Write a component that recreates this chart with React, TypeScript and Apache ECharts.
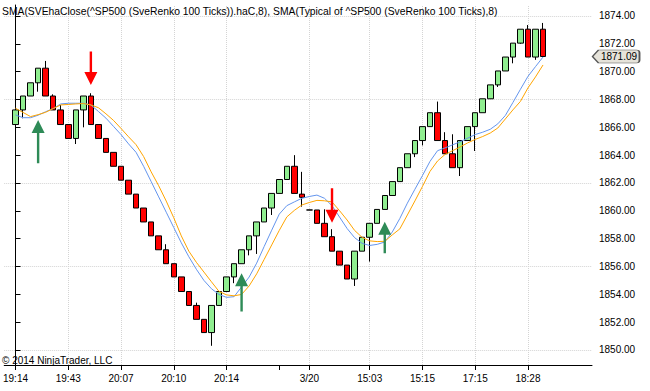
import React, { useEffect, useRef } from 'react';
import * as echarts from 'echarts';

// ---- Data ----
const opens = [
  1866.2, 1867.25, 1868.25, 1869.2, 1870.25, 1868.25, 1867.25, 1866.2, 1865.2, 1867.25,
  1868.25, 1866.2, 1865.2, 1864.2, 1863.2, 1862.2, 1861.2, 1860.2, 1859.2, 1858.2,
  1857.2, 1856.2, 1855.25, 1854.2, 1853.2, 1852.2, 1851.25, 1853.2, 1854.2, 1855.25,
  1856.2, 1857.2, 1858.2, 1859.2, 1860.2, 1861.25, 1862.25, 1863.2, 1861.2, 1860.06,
  1860.06, 1859.1, 1858.14, 1857.1, 1856.1, 1855.1, 1857.1, 1858.1, 1859.1, 1860.1,
  1861.1, 1862.1, 1863.1, 1864.1, 1865.05, 1866.05, 1867.05, 1865.05, 1864.1, 1863.1,
  1865.05, 1866.05, 1867.05, 1868.05, 1869.05, 1870.05, 1871.05, 1872.05, 1873.05, 1871.05,
  1873.05,
];
const closes = [
  1867.25, 1868.25, 1869.2, 1870.25, 1868.25, 1867.25, 1866.2, 1865.2, 1867.25, 1868.25,
  1866.2, 1865.2, 1864.2, 1863.2, 1862.2, 1861.2, 1860.2, 1859.2, 1858.2, 1857.2,
  1856.2, 1855.25, 1854.2, 1853.2, 1852.2, 1851.25, 1853.2, 1854.2, 1855.25, 1856.2,
  1857.2, 1858.2, 1859.2, 1860.2, 1861.25, 1862.25, 1863.2, 1861.25, 1860.97, 1860.06,
  1859.1, 1858.14, 1857.1, 1856.1, 1855.1, 1857.1, 1858.1, 1859.1, 1860.1, 1861.1,
  1862.1, 1863.1, 1864.1, 1865.05, 1866.05, 1867.05, 1865.05, 1864.1, 1863.1, 1865.05,
  1866.05, 1867.05, 1868.05, 1869.05, 1870.05, 1871.05, 1872.05, 1873.05, 1871.05, 1873.05,
  1871.09,
];
const lows = [
  1865.8, 1866.65, 1868.25, 1868.56, 1868.25, 1867.25, 1866.2, 1865.2, 1864.8, 1866.0,
  1866.2, 1865.2, 1864.2, 1863.2, 1862.2, 1861.2, 1860.2, 1859.2, 1858.2, 1857.2,
  1856.2, 1855.25, 1854.2, 1853.2, 1852.2, 1851.25, 1850.3, 1853.2, 1854.2, 1854.8,
  1856.2, 1856.8, 1856.9, 1859.2, 1859.7, 1861.25, 1862.25, 1861.25, 1860.3, 1860.06,
  1859.1, 1858.14, 1857.1, 1856.1, 1855.1, 1854.6, 1857.1, 1856.35, 1859.1, 1860.1,
  1861.1, 1862.1, 1863.1, 1863.86, 1864.7, 1866.05, 1865.05, 1864.1, 1863.1, 1862.5,
  1865.05, 1864.3, 1867.05, 1868.05, 1868.9, 1870.05, 1870.6, 1872.0, 1871.05, 1870.85,
  1871.09,
];
const highs = [
  1867.25, 1868.25, 1869.2, 1870.25, 1870.77, 1868.37, 1867.6, 1866.2, 1867.25, 1868.25,
  1868.45, 1866.2, 1865.2, 1864.2, 1863.2, 1862.2, 1861.2, 1860.2, 1859.2, 1858.2,
  1857.6, 1856.2, 1855.25, 1854.2, 1853.4, 1852.2, 1853.2, 1854.2, 1855.25, 1856.2,
  1857.2, 1858.2, 1859.2, 1860.2, 1861.25, 1862.25, 1863.2, 1864.0, 1862.8, 1860.06,
  1860.06, 1860.11, 1858.68, 1857.1, 1856.1, 1857.1, 1858.1, 1859.1, 1860.1, 1861.1,
  1862.1, 1863.1, 1864.1, 1865.05, 1866.05, 1867.05, 1867.85, 1865.65, 1865.5, 1865.05,
  1866.05, 1867.05, 1868.05, 1869.05, 1870.05, 1871.05, 1872.05, 1873.05, 1873.35, 1873.05,
  1873.5,
];
const smaHaClose = [
  1866.89, 1866.69, 1866.69, 1866.87, 1867.12, 1867.35, 1867.68, 1867.73, 1867.73, 1867.73,
  1867.61, 1867.14, 1866.66, 1866.07, 1865.48, 1864.81, 1864.2, 1863.2, 1862.1, 1861.0,
  1859.9, 1858.8, 1857.7, 1856.7, 1855.8, 1855.0, 1854.4, 1853.99, 1853.78, 1853.83,
  1854.53, 1855.24, 1856.24, 1857.44, 1858.61, 1859.76, 1860.37, 1860.64, 1860.9, 1861.03,
  1861.13, 1860.9, 1860.37, 1859.55, 1858.73, 1858.07, 1857.66, 1857.51, 1857.59, 1857.76,
  1858.48, 1859.45, 1860.55, 1861.55, 1862.53, 1863.55, 1864.32, 1864.52, 1864.74, 1864.96,
  1865.22, 1865.48, 1865.65, 1865.86, 1866.25, 1866.85, 1867.78, 1868.73, 1869.66, 1870.36,
  1871.05,
];
const smaTypical = [
  1867.37, 1867.07, 1866.77, 1866.91, 1867.08, 1867.35, 1867.61, 1867.64, 1867.68, 1867.71,
  1867.61, 1867.41, 1866.97, 1866.5, 1865.92, 1865.32, 1864.75, 1863.9, 1862.8, 1861.8,
  1860.7, 1859.5, 1858.2, 1857.1, 1856.3, 1855.6, 1854.9, 1854.21, 1853.96, 1853.89,
  1853.99, 1854.6, 1855.47, 1856.51, 1857.55, 1858.59, 1859.56, 1860.03, 1860.42, 1860.6,
  1860.75, 1860.72, 1860.64, 1860.01, 1859.34, 1858.59, 1858.09, 1857.84, 1857.79, 1857.81,
  1858.27, 1858.7, 1859.7, 1860.71, 1861.75, 1862.83, 1863.58, 1864.05, 1864.32, 1864.59,
  1864.88, 1865.13, 1865.34, 1865.59, 1865.95, 1866.6, 1867.25, 1867.86, 1868.83, 1869.62,
  1870.48,
];
// arrows: [bar index, tip price, tail price]
const upArrows = [
  [3, 1866.53, 1863.42],
  [30, 1855.52, 1852.76],
  [49, 1859.22, 1856.95],
];
const downArrows = [
  [10, 1869.04, 1871.44],
  [42, 1859.15, 1861.62],
];
const xTickBars = [0, 7, 14, 21, 28, 35, 39, 47, 54, 61, 68];
const xTickLabels = ['19:14', '19:43', '20:07', '20:10', '20:14', '', '3/20', '15:03', '15:15', '17:15', '18:28'];
const xGridBars = [0, 7, 14, 21, 28, 39, 47, 54, 61, 68];
const yTickValues = [1850, 1852, 1854, 1856, 1858, 1860, 1862, 1864, 1866, 1868, 1870, 1872, 1874];
const yGridValues = [1850, 1856, 1862, 1868, 1874];
const titleText = 'SMA(SVEhaClose(^SP500 (SveRenko 100 Ticks)).haC,8), SMA(Typical of ^SP500 (SveRenko 100 Ticks),8)';
const copyrightText = '\u00a9 2014 NinjaTrader, LLC';

const X_MIN = -1.5;
const X_MAX = 76.5;
const Y_MIN = 1848.92;
const Y_MAX = 1874.79;
const FONT = '"Liberation Sans", Arial, sans-serif';

export default function App() {
  const ref = useRef<HTMLDivElement>(null);
  useEffect(() => {
    if (!ref.current) return;
    const chart = echarts.init(ref.current, null, { renderer: 'svg' });
    const candles = opens.map((o, i) => [i, o, closes[i], lows[i], highs[i]]);
    const lastIdx = closes.length - 1;
    const lastClose = closes[lastIdx];

    const arrowRender = (params: any, api: any) => {
      const tip = api.coord([api.value(0), api.value(1)]);
      const tail = api.coord([api.value(0), api.value(2)]);
      const dir = tail[1] > tip[1] ? 1 : -1;
      const x = tip[0];
      const hb = tip[1] + dir * 13;
      return {
        type: 'polygon',
        shape: {
          points: [
            [x, tip[1]],
            [x + 6.5, hb],
            [x + 1.2, hb],
            [x + 1.2, tail[1]],
            [x - 1.2, tail[1]],
            [x - 1.2, hb],
            [x - 6.5, hb],
          ],
        },
        style: { fill: api.visual('color') },
      };
    };

    const gridLineStyle = { color: '#d4d4d4', type: 'dotted', width: 1 };

    chart.setOption({
      animation: false,
      backgroundColor: '#ffffff',
      textStyle: { fontFamily: FONT },
      title: [
        {
          text: titleText,
          left: 2,
          top: 6,
          padding: 0,
          textStyle: { fontSize: 10.35, fontWeight: 'normal', color: '#000', fontFamily: FONT },
        },
        {
          text: copyrightText,
          left: 2,
          top: 355,
          padding: 0,
          textStyle: { fontSize: 10, fontWeight: 'normal', color: '#000', fontFamily: FONT },
        },
      ],
      grid: { left: 0, right: 58, top: 5, bottom: 26, containLabel: false },
      xAxis: {
        type: 'value',
        min: X_MIN,
        max: X_MAX,
        axisLine: { show: true, lineStyle: { color: '#000', width: 1 } },
        axisTick: { show: true, length: 5, lineStyle: { color: '#000' }, customValues: xTickBars },
        axisLabel: {
          show: true,
          customValues: xTickBars,
          formatter: (v: number) => {
            const k = xTickBars.indexOf(Math.round(v));
            return k >= 0 ? xTickLabels[k] : '';
          },
          margin: 8,
          fontSize: 10,
          color: '#000',
          fontFamily: FONT,
          showMinLabel: true,
          showMaxLabel: true,
          hideOverlap: false,
        },
        splitLine: { show: false },
      },
      yAxis: {
        type: 'value',
        position: 'right',
        min: Y_MIN,
        max: Y_MAX,
        axisLine: { show: true, lineStyle: { color: '#000', width: 1 } },
        axisTick: { show: true, length: 5, lineStyle: { color: '#000' }, customValues: yTickValues },
        axisLabel: {
          show: true,
          customValues: yTickValues,
          formatter: (v: number) => v.toFixed(2),
          margin: 7,
          fontSize: 10,
          color: '#000',
          fontFamily: FONT,
        },
        splitLine: { show: false },
      },
      series: [
        {
          type: 'candlestick',
          data: candles,
          encode: { x: 0, y: [1, 2, 3, 4] },
          barWidth: 6,
          itemStyle: {
            color: '#90EE90',
            color0: '#FF0000',
            borderColor: '#000000',
            borderColor0: '#000000',
            borderWidth: 1,
          },
          markLine: {
            silent: true,
            symbol: ['none', 'none'],
            label: { show: false },
            lineStyle: gridLineStyle,
            data: [
              ...yGridValues.map((v) => ({ yAxis: v })),
              ...xGridBars.map((b) => ({ xAxis: b })),
            ],
            z: 0,
          },
          markPoint: {
            silent: true,
            symbol: 'path://M0,6.5 L6,0 L44,0 Q47,0 47,3 L47,10 Q47,13 44,13 L6,13 Z',
            symbolSize: [47, 13],
            symbolKeepAspect: false,
            symbolOffset: [24, 0],
            itemStyle: { color: '#E6E3DA', borderColor: '#555', borderWidth: 1 },
            label: {
              show: true,
              position: 'inside',
              offset: [3, 0],
              color: '#000',
              fontSize: 10,
              fontFamily: FONT,
              formatter: () => lastClose.toFixed(2),
            },
            data: [{ coord: [X_MAX, lastClose], value: lastClose }],
          },
          z: 2,
        },
        {
          type: 'line',
          name: 'SMA haClose',
          data: smaHaClose.map((v, i) => [i, v]),
          showSymbol: false,
          symbol: 'none',
          lineStyle: { color: '#6495ED', width: 1 },
          z: 3,
        },
        {
          type: 'line',
          name: 'SMA Typical',
          data: smaTypical.map((v, i) => [i, v]),
          showSymbol: false,
          symbol: 'none',
          lineStyle: { color: '#FFA500', width: 1 },
          z: 3,
        },
        {
          type: 'custom',
          data: upArrows,
          encode: { x: 0, y: [1, 2] },
          renderItem: arrowRender,
          itemStyle: { color: '#2E8B57' },
          clip: false,
          z: 5,
        },
        {
          type: 'custom',
          data: downArrows,
          encode: { x: 0, y: [1, 2] },
          renderItem: arrowRender,
          itemStyle: { color: '#FF0000' },
          clip: false,
          z: 5,
        },
      ],
    });
    return () => chart.dispose();
  }, []);
  return (
    <div
      ref={ref}
      style={{ position: 'absolute', left: 0, top: 0, width: 650, height: 391, background: '#fff' }}
    />
  );
}
